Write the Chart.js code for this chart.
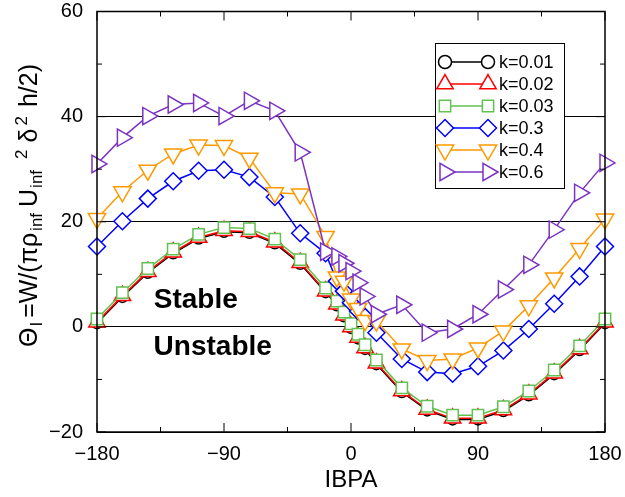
<!DOCTYPE html>
<html>
<head>
<meta charset="utf-8">
<script src="https://cdn.jsdelivr.net/npm/chart.js@4/dist/chart.umd.min.js"></script>
<style>
  html, body { margin: 0; padding: 0; background: #fff; }
</style>
</head>
<body>
<canvas id="c" width="625" height="497"></canvas>
<script>
// IBPA (deg) sample positions, shared by every curve
const ibpa = [-180, -162, -144, -126, -108, -90, -72, -54, -36, -18, -10, -5, 0,
              5, 10, 18, 36, 54, 72, 90, 108, 126, 144, 162, 180];

const k001 = [0.7, 5.7, 10.3, 14.0, 16.8, 18.1, 17.9, 15.9, 12.0, 6.6, 4.1, 2.0, -0.2,
              -2.2, -4.2, -7.1, -12.4, -15.9, -17.6, -17.6, -16.0, -13.0, -9.0, -4.4, 0.7];
const k002 = [0.9, 5.9, 10.5, 14.2, 17.0, 18.3, 18.1, 16.1, 12.2, 6.8, 4.3, 2.2, 0.0,
              -2.0, -4.0, -6.9, -12.2, -15.7, -17.4, -17.4, -15.8, -12.8, -8.8, -4.2, 0.9];
const k003 = [1.5, 6.5, 11.1, 14.8, 17.6, 18.9, 18.7, 16.7, 12.8, 7.4, 4.9, 2.8, 0.6,
              -1.4, -3.4, -6.3, -11.6, -15.1, -16.8, -16.8, -15.2, -12.2, -8.2, -3.6, 1.5];
const k03  = [15.3, 20.1, 24.4, 27.7, 29.7, 29.9, 28.5, 24.7, 17.8, 14.0, 8.7, 6.8, 4.6,
              3.0, 1.9, -1.1, -6.1, -8.6, -8.9, -7.5, -4.5, -0.4, 4.4, 9.6, 15.3];
const k04  = [20.6, 25.7, 29.8, 32.9, 34.6, 34.5, 32.1, 25.5, 25.3, 17.2, 9.5, 8.7, 5.3,
              3.5, 1.2, 1.1, -4.2, -6.4, -6.1, -4.0, -0.8, 4.0, 9.3, 14.9, 20.5];
const k06  = [31.0, 36.0, 40.1, 42.3, 42.6, 40.1, 43.0, 41.1, 33.2, 14.3, 13.4, 12.1, 10.6,
              8.4, 5.8, 2.4, 4.2, -1.1, -0.4, 2.4, 7.1, 11.8, 18.5, 25.5, 31.2];

const seriesLabels = ['k=0.01', 'k=0.02', 'k=0.03', 'k=0.3', 'k=0.4', 'k=0.6'];
const seriesValues = [k001, k002, k003, k03, k04, k06];
const seriesColors = ['#000000', '#ff0000', '#62c150', '#0000ff', '#ff9900', '#7b33c2'];
const seriesMarks  = [
  { style: 'circle',   rot: 0,   r: 5.5 },
  { style: 'triangle', rot: 0,   r: 9.5 },
  { style: 'rect',     rot: 0,   r: 8 },
  { style: 'rectRot',  rot: 0,   r: 8.5 },
  { style: 'triangle', rot: 180, r: 10 },
  { style: 'triangle', rot: 90,  r: 10 }
];

const xTickValues = [-180, -90, 0, 90, 180];
const xTitle = 'IBPA';
// y title pieces: [text, level, gap after]  level -1 = subscript, 1 = superscript
const yTitleParts = [['Θ', 0, 1], ['I', -1, 4], ['=W/(πρ', 0, 2], ['inf', -1, 6], ['U', 0, 1],
                     ['inf', -1, 11], ['2', 1, 7], ['δ', 0, 3], ['2', 1, 9], ['h/2)', 0, 0]];
const regionLabels = [['Stable', -110, 5], ['Unstable', -98, -3.8]];

const FONT = "'Liberation Sans', Arial, Helvetica, sans-serif";
const minus = v => String(v).replace('-', '\u2212');

const datasets = seriesLabels.map((lab, i) => ({
  label: lab,
  data: ibpa.map((x, j) => ({ x: x, y: seriesValues[i][j] })),
  borderColor: seriesColors[i],
  backgroundColor: '#ffffff',
  borderWidth: 1.5,
  pointStyle: seriesMarks[i].style,
  pointRotation: seriesMarks[i].rot,
  pointRadius: seriesMarks[i].r,
  pointBorderWidth: 1.5,
  pointBackgroundColor: '#ffffff',
  tension: 0,
  clip: false,
  order: seriesLabels.length - i
}));

// border, inward ticks, annotations, legend and y title
const decorPlugin = {
  id: 'decor',
  afterDatasetsDraw(chart) {
    const { ctx, chartArea: a, scales: { x, y } } = chart;
    ctx.save();
    ctx.strokeStyle = '#000';
    ctx.lineWidth = 1.5;
    ctx.strokeRect(a.left, a.top, a.right - a.left, a.bottom - a.top);

    ctx.lineWidth = 1;
    ctx.beginPath();
    const xt = x.ticks.map(t => t.value);
    xt.forEach((v, i) => {
      const px = x.getPixelForValue(v);
      ctx.moveTo(px, a.bottom); ctx.lineTo(px, a.bottom - 9);
      ctx.moveTo(px, a.top); ctx.lineTo(px, a.top + 9);
      if (i < xt.length - 1) {
        const m = x.getPixelForValue((v + xt[i + 1]) / 2);
        ctx.moveTo(m, a.bottom); ctx.lineTo(m, a.bottom - 5);
        ctx.moveTo(m, a.top); ctx.lineTo(m, a.top + 5);
      }
    });
    const yt = y.ticks.map(t => t.value);
    yt.forEach((v, i) => {
      const py = y.getPixelForValue(v);
      ctx.moveTo(a.left, py); ctx.lineTo(a.left + 9, py);
      ctx.moveTo(a.right, py); ctx.lineTo(a.right - 9, py);
      if (i < yt.length - 1) {
        const m = y.getPixelForValue((v + yt[i + 1]) / 2);
        ctx.moveTo(a.left, m); ctx.lineTo(a.left + 5, m);
        ctx.moveTo(a.right, m); ctx.lineTo(a.right - 5, m);
      }
    });
    ctx.stroke();

    // Stable / Unstable
    ctx.fillStyle = '#000';
    ctx.font = 'bold 28px ' + FONT;
    ctx.textAlign = 'center';
    ctx.textBaseline = 'middle';
    regionLabels.forEach(([t, vx, vy]) => {
      ctx.fillText(t, x.getPixelForValue(vx), y.getPixelForValue(vy));
    });

    // legend box
    const bx = 435, by = 43, bw = 129, bh = 145;
    ctx.fillStyle = '#fff';
    ctx.fillRect(bx, by, bw, bh);
    ctx.strokeStyle = '#000';
    ctx.lineWidth = 1;
    ctx.strokeRect(bx + 0.5, by + 0.5, bw, bh);
    ctx.font = '18px ' + FONT;
    ctx.textAlign = 'left';
    seriesLabels.forEach((lab, i) => {
      const ry = by + 19 + i * 22;
      ctx.strokeStyle = seriesColors[i];
      ctx.lineWidth = 1.5;
      ctx.beginPath(); ctx.moveTo(445, ry); ctx.lineTo(488, ry); ctx.stroke();
      const opt = { pointStyle: seriesMarks[i].style, rotation: seriesMarks[i].rot,
                    radius: i === 0 ? 6.5 : seriesMarks[i].r, borderWidth: 1.5 };
      ctx.fillStyle = '#fff';
      [445, 488].forEach(px => Chart.helpers.drawPoint(ctx, opt, px, ry));
      ctx.fillStyle = '#000';
      ctx.fillText(lab, 499, ry + 1);
    });

    // y axis title with sub/superscripts
    ctx.translate(37, 347);
    ctx.rotate(-Math.PI / 2);
    ctx.textAlign = 'left';
    ctx.textBaseline = 'alphabetic';
    ctx.fillStyle = '#000';
    let px = 0;
    yTitleParts.forEach(([t, lvl, gap]) => {
      ctx.font = (lvl === 0 ? 25 : 17) + 'px ' + FONT;
      const dy = lvl === -1 ? 5 : (lvl === 1 ? -10 : 0);
      ctx.fillText(t, px, dy);
      px += ctx.measureText(t).width + gap;
    });
    ctx.restore();
  }
};

new Chart(document.getElementById('c'), {
  type: 'line',
  data: { datasets },
  options: {
    responsive: false,
    animation: false,
    layout: { padding: { top: 8, right: 20, left: 0, bottom: 0 } },
    plugins: { legend: { display: false }, tooltip: { enabled: false } },
    scales: {
      x: {
        type: 'linear', min: -180, max: 180,
        afterBuildTicks: s => { s.ticks = xTickValues.map(v => ({ value: v })); },
        afterFit: s => { s.height = 65; },
        grid: { display: true, drawOnChartArea: false, drawTicks: true, tickLength: 10,
                tickColor: 'rgba(0,0,0,0)' },
        border: { display: false },
        ticks: { autoSkip: false, maxRotation: 0, padding: 0, color: '#000',
                 font: { family: FONT, size: 20 }, callback: v => minus(v) },
        title: { display: true, text: xTitle, color: '#000', padding: { top: 0, bottom: 2 },
                 font: { family: FONT, size: 24 } }
      },
      y: {
        min: -20, max: 60,
        afterFit: s => { s.width = 97; },
        grid: { color: '#000', lineWidth: 1, drawTicks: true, tickLength: 14,
                tickColor: 'rgba(0,0,0,0)' },
        border: { display: false },
        ticks: { stepSize: 20, padding: 0, color: '#000',
                 font: { family: FONT, size: 20, lineHeight: 0.8 }, callback: v => minus(v) }
      }
    }
  },
  plugins: [decorPlugin]
});
</script>
</body>
</html>
